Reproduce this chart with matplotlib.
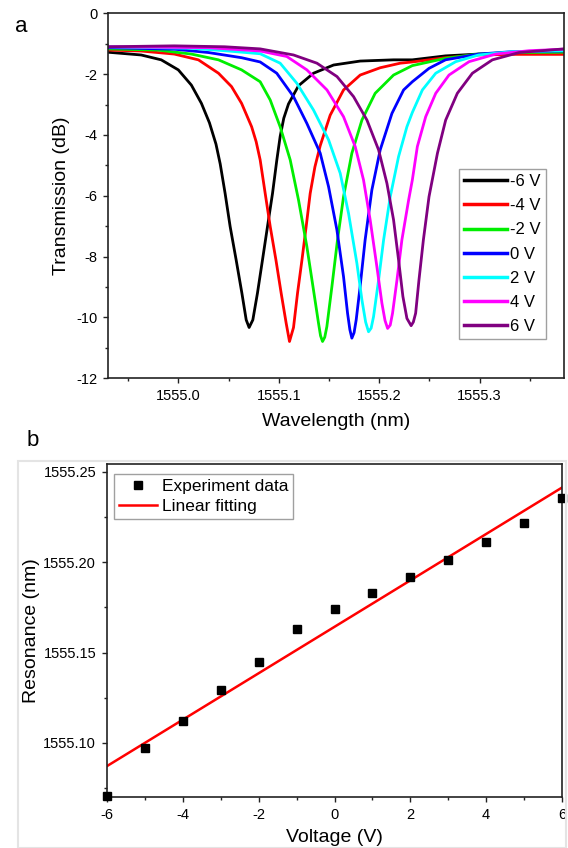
import numpy as np
import matplotlib
matplotlib.use("Agg")
import matplotlib.pyplot as plt
from matplotlib.patches import Rectangle
from matplotlib.ticker import MultipleLocator, FormatStrFormatter

plt.rcParams['font.family'] = ['Liberation Sans', 'DejaVu Sans']
plt.rcParams['axes.unicode_minus'] = False

# ---------------- Panel a data: transmission spectra ----------------
labels_a = ['-6 V', '-4 V', '-2 V', '0 V', '2 V', '4 V', '6 V']
colors_a = ['#000000', '#ff0000', '#00ee00', '#0000ff', '#00ffff', '#ff00ff', '#800080']

wl_m6 = [1554.930, 1554.963, 1554.983, 1555.000, 1555.013, 1555.023, 1555.031, 1555.0375,
         1555.0417, 1555.0466, 1555.0516, 1555.0576, 1555.0633, 1555.0676, 1555.0705,
         1555.0742, 1555.0788, 1555.0838, 1555.0888, 1555.0938, 1555.0981, 1555.1014,
         1555.1050, 1555.1097, 1555.1197, 1555.1346, 1555.1546, 1555.1811, 1555.2143,
         1555.233, 1555.266, 1555.299, 1555.333, 1555.384]
tr_m6 = [-1.28, -1.37, -1.53, -1.86, -2.36, -2.96, -3.60, -4.30, -4.95, -5.92, -7.01, -8.11,
         -9.20, -10.08, -10.33, -10.08, -9.20, -8.11, -7.01, -5.92, -4.82, -4.05, -3.45,
         -2.98, -2.38, -1.97, -1.70, -1.57, -1.53, -1.53, -1.40, -1.34, -1.32, -1.32]

wl_m4 = [1554.930, 1554.963, 1554.996, 1555.020, 1555.040, 1555.053, 1555.063, 1555.073,
         1555.0775, 1555.0815, 1555.0865, 1555.0915, 1555.0972, 1555.1024, 1555.1074,
         1555.1107, 1555.1147, 1555.1187, 1555.1231, 1555.1273, 1555.1313, 1555.1360,
         1555.1413, 1555.1512, 1555.1645, 1555.1811, 1555.201, 1555.221, 1555.233,
         1555.266, 1555.299, 1555.333, 1555.384]
tr_m4 = [-1.21, -1.24, -1.34, -1.53, -1.97, -2.41, -2.96, -3.73, -4.22, -4.82, -5.92, -7.01,
         -8.11, -9.20, -10.19, -10.79, -10.33, -9.20, -8.11, -7.01, -5.92, -5.05, -4.35,
         -3.35, -2.52, -2.03, -1.79, -1.64, -1.60, -1.46, -1.37, -1.35, -1.35]

wl_m2 = [1554.930, 1554.980, 1555.013, 1555.040, 1555.063, 1555.0815, 1555.0915, 1555.1014,
         1555.1114, 1555.1197, 1555.128, 1555.1346, 1555.1396, 1555.1416, 1555.1436,
         1555.1458, 1555.1479, 1555.1529, 1555.1585, 1555.1645, 1555.1728, 1555.1828,
         1555.196, 1555.2143, 1555.233, 1555.266, 1555.299, 1555.333, 1555.384]
tr_m2 = [-1.17, -1.21, -1.34, -1.53, -1.86, -2.25, -2.85, -3.73, -4.82, -6.14, -7.67, -9.10,
         -10.19, -10.60, -10.79, -10.65, -10.30, -8.99, -7.45, -6.03, -4.60, -3.51, -2.63,
         -2.03, -1.72, -1.48, -1.34, -1.29, -1.28]

wl_0 = [1554.930, 1554.996, 1555.030, 1555.063, 1555.0815, 1555.098, 1555.1147, 1555.128,
        1555.1413, 1555.1496, 1555.1579, 1555.1645, 1555.1685, 1555.1708, 1555.1728,
        1555.175, 1555.1771, 1555.181, 1555.186, 1555.1927, 1555.201, 1555.2127, 1555.2243,
        1555.233, 1555.2496, 1555.266, 1555.299, 1555.333, 1555.384]
tr_0 = [-1.13, -1.18, -1.29, -1.46, -1.60, -1.97, -2.74, -3.62, -4.60, -5.70, -7.12, -8.66,
        -9.86, -10.40, -10.68, -10.50, -10.08, -8.99, -7.45, -5.81, -4.49, -3.29, -2.52,
        -2.25, -1.81, -1.53, -1.34, -1.26, -1.24]

wl_p2 = [1554.930, 1555.013, 1555.046, 1555.0815, 1555.1014, 1555.118, 1555.1346, 1555.1496,
         1555.1612, 1555.1695, 1555.1778, 1555.1828, 1555.1865, 1555.1894, 1555.192,
         1555.1944, 1555.1994, 1555.2044, 1555.211, 1555.2193, 1555.2276, 1555.233,
         1555.243, 1555.2563, 1555.2762, 1555.299, 1555.333, 1555.384]
tr_p2 = [-1.10, -1.15, -1.23, -1.33, -1.64, -2.30, -3.18, -4.16, -5.26, -6.58, -8.22, -9.42,
         -10.15, -10.47, -10.35, -9.97, -8.77, -7.45, -6.03, -4.71, -3.73, -3.26, -2.52,
         -1.97, -1.59, -1.37, -1.26, -1.23]

wl_p4 = [1554.930, 1555.030, 1555.0815, 1555.108, 1555.128, 1555.148, 1555.1645, 1555.1761,
         1555.1844, 1555.191, 1555.1977, 1555.2027, 1555.2058, 1555.2084, 1555.211,
         1555.2133, 1555.2177, 1555.2226, 1555.2293, 1555.233, 1555.238, 1555.2463,
         1555.2563, 1555.2695, 1555.2895, 1555.316, 1555.3493, 1555.384]
tr_p4 = [-1.10, -1.13, -1.24, -1.42, -1.86, -2.52, -3.40, -4.38, -5.48, -6.79, -8.33, -9.53,
         -10.10, -10.36, -10.25, -9.86, -8.77, -7.45, -6.14, -5.48, -4.38, -3.40, -2.63,
         -2.03, -1.59, -1.34, -1.23, -1.18]

wl_p6 = [1554.930, 1554.996, 1555.046, 1555.0815, 1555.1147, 1555.138, 1555.158, 1555.1745,
         1555.1878, 1555.1994, 1555.2077, 1555.2143, 1555.2193, 1555.2236, 1555.2276,
         1555.2318, 1555.2340, 1555.2363, 1555.2396, 1555.244, 1555.2496, 1555.258,
         1555.2662, 1555.2778, 1555.2928, 1555.3127, 1555.3393, 1555.384]
tr_p6 = [-1.10, -1.07, -1.10, -1.17, -1.37, -1.64, -2.08, -2.74, -3.51, -4.49, -5.59, -6.79,
         -8.11, -9.31, -10.03, -10.27, -10.15, -9.86, -8.77, -7.45, -6.03, -4.60, -3.51,
         -2.63, -1.97, -1.53, -1.29, -1.17]

wl_all = [wl_m6, wl_m4, wl_m2, wl_0, wl_p2, wl_p4, wl_p6]
tr_all = [tr_m6, tr_m4, tr_m2, tr_0, tr_p2, tr_p4, tr_p6]

# ---------------- Panel b data: resonance vs voltage ----------------
voltage = [-6, -5, -4, -3, -2, -1, 0, 1, 2, 3, 4, 5, 6]
resonance = [1555.0705, 1555.0969, 1555.1123, 1555.1291, 1555.1447, 1555.1631, 1555.1742,
             1555.1830, 1555.1920, 1555.2010, 1555.2110, 1555.2220, 1555.2353]

W, H = 568, 848
fig = plt.figure(figsize=(W / 100, H / 100), dpi=100)

def ax_rect(l, t, r, b):
    return [l / W, 1 - b / H, (r - l) / W, (b - t) / H]

spine_c = '#222222'
tick_fs = 10.5
label_fs = 14

def style_axes(ax):
    for s in ax.spines.values():
        s.set_color(spine_c)
        s.set_linewidth(1.2)
    ax.tick_params(which='both', direction='out', color=spine_c, width=1.0,
                   labelsize=tick_fs, top=False, right=False)
    ax.tick_params(which='major', length=3.8, pad=4.0)
    ax.tick_params(which='minor', length=2.2)

# ---- Panel a ----
axa = fig.add_axes(ax_rect(108, 13.3, 564, 378.3))
for wl, tr, c, lab in zip(wl_all, tr_all, colors_a, labels_a):
    axa.plot(wl, tr, color=c, lw=2.0, label=lab, solid_joinstyle='round')
axa.set_xlim(1554.930, 1555.384)
axa.set_ylim(-12, 0)
axa.xaxis.set_major_locator(MultipleLocator(0.1))
axa.xaxis.set_minor_locator(MultipleLocator(0.05))
axa.xaxis.set_major_formatter(FormatStrFormatter('%.1f'))
axa.yaxis.set_major_locator(MultipleLocator(2))
axa.yaxis.set_minor_locator(MultipleLocator(1))
style_axes(axa)
axa.set_xlabel('Wavelength (nm)', fontsize=label_fs)
axa.set_ylabel('Transmission (dB)', fontsize=label_fs)
axa.xaxis.set_label_coords(0.5, -0.095)
axa.yaxis.set_label_coords(-0.083, 0.5)
lega = axa.legend(loc='upper left', bbox_to_anchor=(0.770, 0.5734), borderaxespad=0,
                  fontsize=12, frameon=True, fancybox=False, framealpha=1,
                  edgecolor='#a0a0a0', handlelength=2.6, handletextpad=0.15,
                  labelspacing=0.55, borderpad=0.3)
lega.get_frame().set_linewidth(1.0)
for line in lega.get_lines():
    line.set_linewidth(2.5)

# ---- Panel b ----
fig.patches.append(Rectangle((18 / W, 0), (566 - 18) / W, 1 - 461 / H,
                             transform=fig.transFigure, fill=False,
                             edgecolor='#e4e4e4', lw=1.5, zorder=0))
axb = fig.add_axes(ax_rect(107, 464, 562, 797))
coef = np.polyfit(voltage, resonance, 1)
vfit = np.array([min(voltage), max(voltage)])
axb.plot(voltage, resonance, ls='none', marker='s', ms=5.2, color='black',
         label='Experiment data', clip_on=False, zorder=3)
axb.plot(vfit, np.polyval(coef, vfit), color='#ff0000', lw=1.8, label='Linear fitting',
         zorder=2)
axb.set_xlim(-6, 6)
axb.set_ylim(1555.070, 1555.2544)
axb.xaxis.set_major_locator(MultipleLocator(2))
axb.xaxis.set_minor_locator(MultipleLocator(1))
axb.yaxis.set_major_locator(MultipleLocator(0.05))
axb.yaxis.set_minor_locator(MultipleLocator(0.025))
axb.yaxis.set_major_formatter(FormatStrFormatter('%.2f'))
style_axes(axb)
axb.set_xlabel('Voltage (V)', fontsize=label_fs)
axb.set_ylabel('Resonance (nm)', fontsize=label_fs)
axb.xaxis.set_label_coords(0.5, -0.096)
axb.yaxis.set_label_coords(-0.148, 0.5)
legb = axb.legend(loc='upper left', bbox_to_anchor=(0.0154, 0.970), borderaxespad=0,
                  fontsize=12.5, frameon=True, fancybox=False, framealpha=1,
                  edgecolor='#a0a0a0', handlelength=2.2, handletextpad=0.25,
                  labelspacing=0.25, borderpad=0.3)
legb.get_frame().set_linewidth(1.0)

# panel letters
fig.text(21 / W, 1 - 26 / H, 'a', fontsize=16, ha='center', va='center')
fig.text(33 / W, 1 - 440 / H, 'b', fontsize=16, ha='center', va='center')

fig.savefig('out.png', dpi=100)
